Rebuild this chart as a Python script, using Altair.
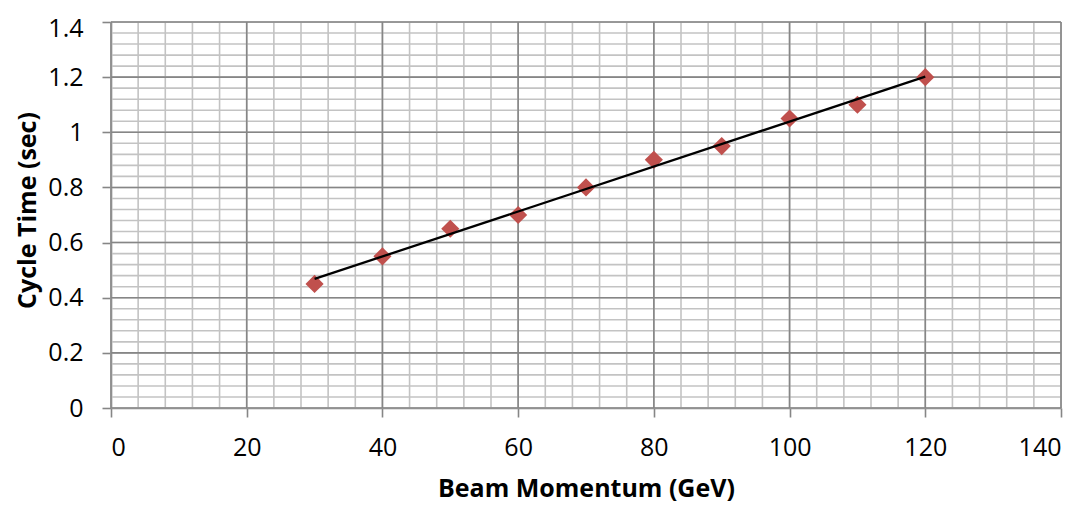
import altair as alt
import pandas as pd

# Data
momentum = [30, 40, 50, 60, 70, 80, 90, 100, 110, 120]
cycle_time = [0.45, 0.55, 0.65, 0.70, 0.80, 0.90, 0.95, 1.05, 1.10, 1.20]

x_major = [0, 20, 40, 60, 80, 100, 120, 140]
y_major = [0, 0.2, 0.4, 0.6, 0.8, 1.0, 1.2, 1.4]
x_minor = [v for v in range(0, 141, 4)]
y_minor = [round(k * 0.04, 2) for k in range(0, 36)]

FONT = "Open Sans"
AXIS_GREY = "#868686"
MINOR_GREY = "#c3c3c3"
xs = alt.Scale(domain=[0, 140], nice=False, zero=True)
ys = alt.Scale(domain=[0, 1.4], nice=False, zero=True)

xaxis = alt.Axis(values=x_major, title="Beam Momentum (GeV)", grid=False,
                 tickSize=9, tickColor=AXIS_GREY, domainColor=AXIS_GREY,
                 domainWidth=1.6, tickWidth=1.6,
                 labelFont=FONT, labelFontSize=25, labelColor="black",
                 labelBaseline="middle", labelPadding=30,
                 titleFont=FONT, titleFontSize=25, titleFontWeight="bold",
                 titleColor="black", titleBaseline="alphabetic", titleY=88)
yaxis = alt.Axis(values=y_major, title="Cycle Time (sec)", grid=False,
                 tickSize=9, tickColor=AXIS_GREY, domainColor=AXIS_GREY,
                 domainWidth=1.6, tickWidth=1.6, labelExpr="format(datum.value, '~g')",
                 labelFont=FONT, labelFontSize=25, labelColor="black",
                 labelOffset={"condition": {"test": "datum.value > 1.3", "value": 6},
                              "value": 0},
                 labelPadding=19, titleFont=FONT, titleFontSize=25,
                 titleFontWeight="bold", titleColor="black",
                 titleAngle=270, titleAlign="center", titleBaseline="alphabetic",
                 titleX=-76, titleY=188)

df = pd.DataFrame({"x": momentum, "y": cycle_time})

xminor = alt.Chart(pd.DataFrame({"x": x_minor})).mark_rule(
    color=MINOR_GREY, strokeWidth=1.6).encode(x=alt.X("x:Q", scale=xs, axis=xaxis))
yminor = alt.Chart(pd.DataFrame({"y": y_minor})).mark_rule(
    color=MINOR_GREY, strokeWidth=1.6).encode(y=alt.Y("y:Q", scale=ys, axis=yaxis))
xmajor = alt.Chart(pd.DataFrame({"x": x_major})).mark_rule(
    color=AXIS_GREY, strokeWidth=1.6).encode(x=alt.X("x:Q", scale=xs, axis=xaxis))
ymajor = alt.Chart(pd.DataFrame({"y": y_major})).mark_rule(
    color=AXIS_GREY, strokeWidth=1.6).encode(y=alt.Y("y:Q", scale=ys, axis=yaxis))

trend = alt.Chart(df).transform_regression("x", "y", extent=[30, 120]).mark_line(
    color="black", strokeWidth=2.3).encode(
    x=alt.X("x:Q", scale=xs, axis=xaxis), y=alt.Y("y:Q", scale=ys, axis=yaxis))

points = alt.Chart(df).mark_point(shape="diamond", filled=True, color="#c0504d",
                                  size=330, opacity=1).encode(
    x=alt.X("x:Q", scale=xs, axis=xaxis),
    y=alt.Y("y:Q", scale=ys, axis=yaxis),
)

chart = alt.layer(xminor, yminor, xmajor, ymajor, points, trend).properties(
    width=950, height=386,
    autosize=alt.AutoSizeParams(type="none"),
    padding={"left": 103, "top": 14, "right": 14, "bottom": 94},
).configure_view(stroke=None).configure(background="white")

chart.save("out.html", embed_options={"renderer": "svg", "actions": False})
